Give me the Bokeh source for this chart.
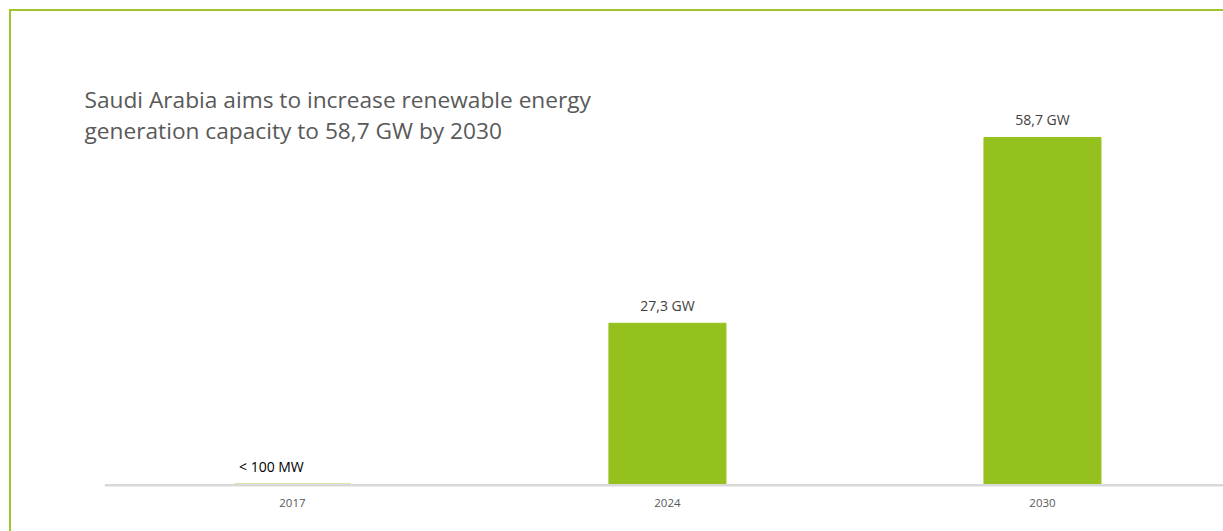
from bokeh.plotting import figure
from bokeh.models import ColumnDataSource, Range1d, Label, FixedTicker, BoxAnnotation
from bokeh.layouts import column
from bokeh.core.properties import value
from bokeh.embed import file_html
from bokeh.resources import INLINE

# ---- data ----
years = ["2017", "2024", "2030"]
capacity_gw = [0.1, 27.3, 58.7]
value_labels = ["< 100 MW", "27,3 GW", "58,7 GW"]
label_colors = ["#000000", "#404040", "#404040"]
label_offsets = [-21, 0, 0]
title_text = "Saudi Arabia aims to increase renewable energy\ngeneration capacity to 58,7 GW by 2030"

FONT = "Open Sans"
GREEN = "#95c11f"

xs = list(range(len(years)))
src = ColumnDataSource(dict(x=xs, top=capacity_gw, lab=value_labels,
                            col=label_colors, xoff=label_offsets))

X_START = -0.557
p = figure(width=1212, height=520, output_backend="svg", toolbar_location=None,
           x_range=Range1d(X_START, 2.4827), y_range=Range1d(-0.3, 80),
           y_axis_location=None, min_border_left=72, min_border_right=0,
           min_border_top=0, min_border_bottom=45)
p.outline_line_color = None
p.background_fill_color = "white"
p.border_fill_color = "white"
p.xgrid.visible = False
p.ygrid.visible = False

p.vbar(x="x", top="top", width=0.312, source=src, color=GREEN)
p.text(x="x", y="top", text="lab", source=src, text_align="center",
       text_baseline="bottom", y_offset=-8, x_offset="xoff",
       text_font=value(FONT), text_font_size="14px", text_color="col")

ax = p.xaxis[0]
ax.ticker = FixedTicker(ticks=xs)
ax.major_label_overrides = {i: y for i, y in zip(xs, years)}
ax.axis_line_color = None
ax.major_tick_line_color = None
ax.minor_tick_line_color = None
ax.major_label_standoff = 6
ax.major_label_text_font = FONT
ax.major_label_text_font_size = "11.5px"
ax.major_label_text_color = "#595959"

# axis baseline: starts at the left edge of the first category slot
baseline = BoxAnnotation(left=xs[0] - 0.5, right=None, bottom=-1, top=2.6,
                         bottom_units="screen", top_units="screen",
                         fill_color="#d9d9d9", fill_alpha=1.0, line_color=None)
p.add_layout(baseline)

title = Label(x=1, y=403, x_units="screen", y_units="screen", text=title_text,
              text_font=FONT, text_font_size="22.7px", text_color="#595959",
              text_baseline="top", text_align="left", text_line_height=1.02)
p.add_layout(title)

layout = column(p, styles={"border-top": "2px solid #9dc62d",
                           "border-left": "2px solid #9dc62d",
                           "margin-top": "9px", "margin-left": "9px"})

open("out.html", "w").write(file_html(layout, INLINE))
